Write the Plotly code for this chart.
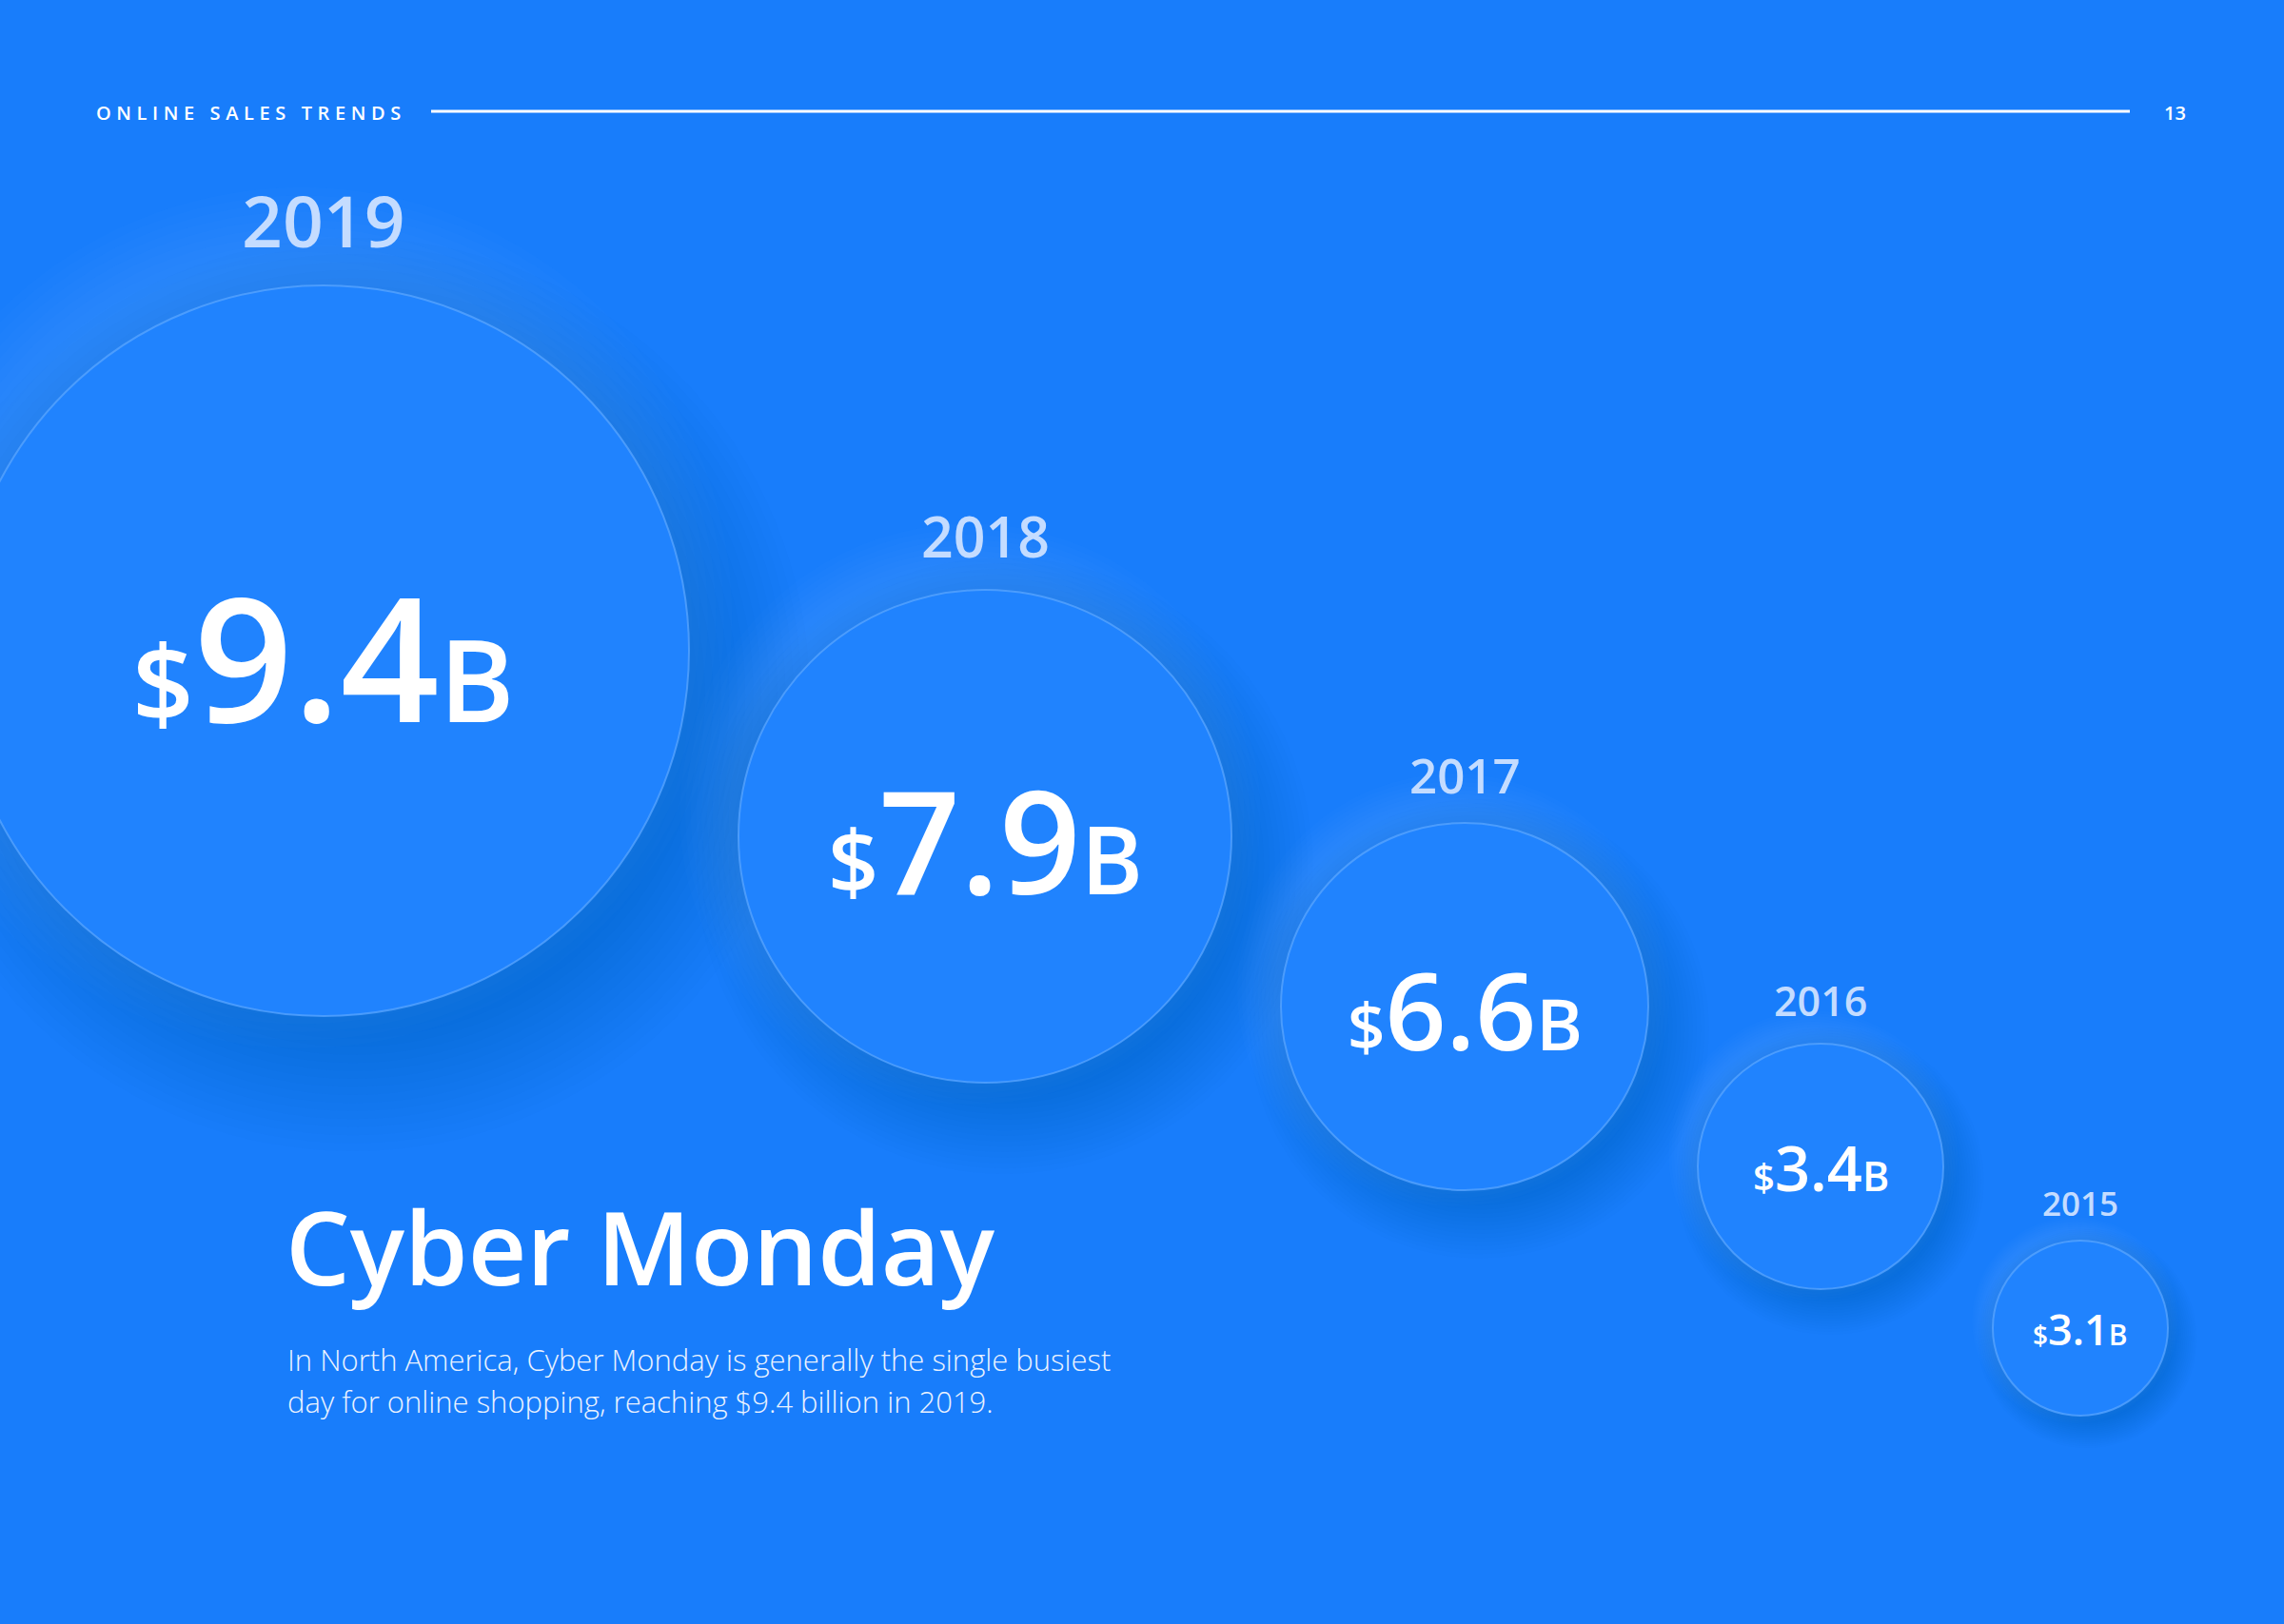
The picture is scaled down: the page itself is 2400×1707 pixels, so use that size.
import plotly.graph_objects as go

# ---------------- data ----------------
years = [2019, 2018, 2017, 2016, 2015]
values = [9.4, 7.9, 6.6, 3.4, 3.1]            # Cyber Monday online sales, $ billions
year_labels = [str(y) for y in years]
value_labels = [f"{v:.1f}" for v in values]

header_text = "ONLINE SALES TRENDS"
page_number = "13"
title_text = "Cyber Monday"
body_lines = [
    "In North America, Cyber Monday is generally the single busiest",
    "day for online shopping, reaching $9.4 billion in 2019.",
]

# ---------------- layout / style (pixel canvas) ----------------
W, H = 2400, 1707
BG = "#187DFB"
FILL = "#2083FE"
EDGE = "rgba(90,165,255,0.75)"
YEAR_COLOR = "#C4DCFF"
FONT = "Open Sans"

bubble_d = [768, 518, 386, 258, 184]          # bubble diameters (px)
bubble_cy = [684, 879, 1058, 1226, 1396]      # bubble vertical centres (px)
first_cx, gap = 340, 52
bubble_cx = [first_cx]
for i in range(1, len(bubble_d)):
    bubble_cx.append(bubble_cx[-1] + bubble_d[i - 1] / 2 + gap + bubble_d[i] / 2)

value_font = [182, 150, 112, 65, 45]
year_font = [75, 59, 51, 43, 35]

fig = go.Figure()

# soft dark shadow (bottom-right)
n_sh = 16
for k in range(n_sh):
    fig.add_trace(go.Scatter(
        x=[cx + 0.08 * d / 2 for cx, d in zip(bubble_cx, bubble_d)],
        y=[cy + 0.12 * d / 2 for cy, d in zip(bubble_cy, bubble_d)],
        mode="markers",
        marker=dict(size=[d * (0.92 + 0.022 * k) for d in bubble_d],
                    color="#0A50B5", opacity=0.03, line=dict(width=0)),
        hoverinfo="skip", showlegend=False))

# soft light glow (top-left)
n_gl = 10
for k in range(n_gl):
    fig.add_trace(go.Scatter(
        x=[cx - 0.06 * d / 2 for cx, d in zip(bubble_cx, bubble_d)],
        y=[cy - 0.09 * d / 2 for cy, d in zip(bubble_cy, bubble_d)],
        mode="markers",
        marker=dict(size=[d * (0.98 + 0.022 * k) for d in bubble_d],
                    color="#5EAAFF", opacity=0.026, line=dict(width=0)),
        hoverinfo="skip", showlegend=False))

# main bubbles
fig.add_trace(go.Scatter(
    x=bubble_cx, y=bubble_cy, mode="markers",
    marker=dict(size=bubble_d, color=FILL, opacity=1,
                line=dict(width=2, color=EDGE)),
    customdata=list(zip(years, values)),
    hovertemplate="%{customdata[0]}: $%{customdata[1]}B<extra></extra>",
    showlegend=False))

annotations = []
for i, (yl, vl) in enumerate(zip(year_labels, value_labels)):
    s = value_font[i]
    txt = (f"<span style='font-size:{s*0.62:.0f}px'>$</span>{vl}"
           f"<span style='font-size:{s*0.66:.0f}px'>B</span>")
    annotations.append(dict(
        x=bubble_cx[i], y=bubble_cy[i] + 0.02 * s, xref="x", yref="y",
        text=txt, showarrow=False, xanchor="center", yanchor="middle",
        font=dict(family=FONT, size=s, color="white", weight=600)))
    fy = year_font[i]
    annotations.append(dict(
        x=bubble_cx[i], y=bubble_cy[i] - bubble_d[i] / 2 - (0.75 * fy + 13),
        xref="x", yref="y", text=yl, showarrow=False,
        xanchor="center", yanchor="middle",
        font=dict(family=FONT, size=fy, color=YEAR_COLOR, weight=600)))

# header
annotations.append(dict(
    x=99, y=118, xref="x", yref="y", showarrow=False,
    xanchor="left", yanchor="middle",
    text=f"<span style='letter-spacing:5.6px'>{header_text}</span>",
    font=dict(family=FONT, size=20, color="white", weight=600)))
annotations.append(dict(
    x=2285, y=118, xref="x", yref="y", showarrow=False,
    xanchor="center", yanchor="middle", text=page_number,
    font=dict(family=FONT, size=20, color="white", weight=600)))

# title and body
annotations.append(dict(
    x=298, y=1309, xref="x", yref="y", showarrow=False,
    xanchor="left", yanchor="middle", text=title_text,
    font=dict(family=FONT, size=107, color="white", weight=600)))
for j, line in enumerate(body_lines):
    annotations.append(dict(
        x=300, y=1429 + 44 * j, xref="x", yref="y", showarrow=False,
        xanchor="left", yanchor="middle", text=line,
        font=dict(family=FONT, size=31, color="#EAF2FF", weight=300)))

fig.update_layout(
    width=W, height=H,
    margin=dict(l=0, r=0, t=0, b=0, pad=0),
    paper_bgcolor=BG, plot_bgcolor=BG,
    xaxis=dict(range=[0, W], visible=False, fixedrange=True),
    yaxis=dict(range=[H, 0], visible=False, fixedrange=True),
    annotations=annotations,
    shapes=[dict(type="line", xref="x", yref="y", x0=453, x1=2238, y0=117, y1=117,
                 line=dict(color="white", width=3))],
    hovermode="closest",
)

fig.write_html("out.html", config={"displayModeBar": False},
               post_script="document.body.style.margin='0';document.body.style.overflow='hidden';")
